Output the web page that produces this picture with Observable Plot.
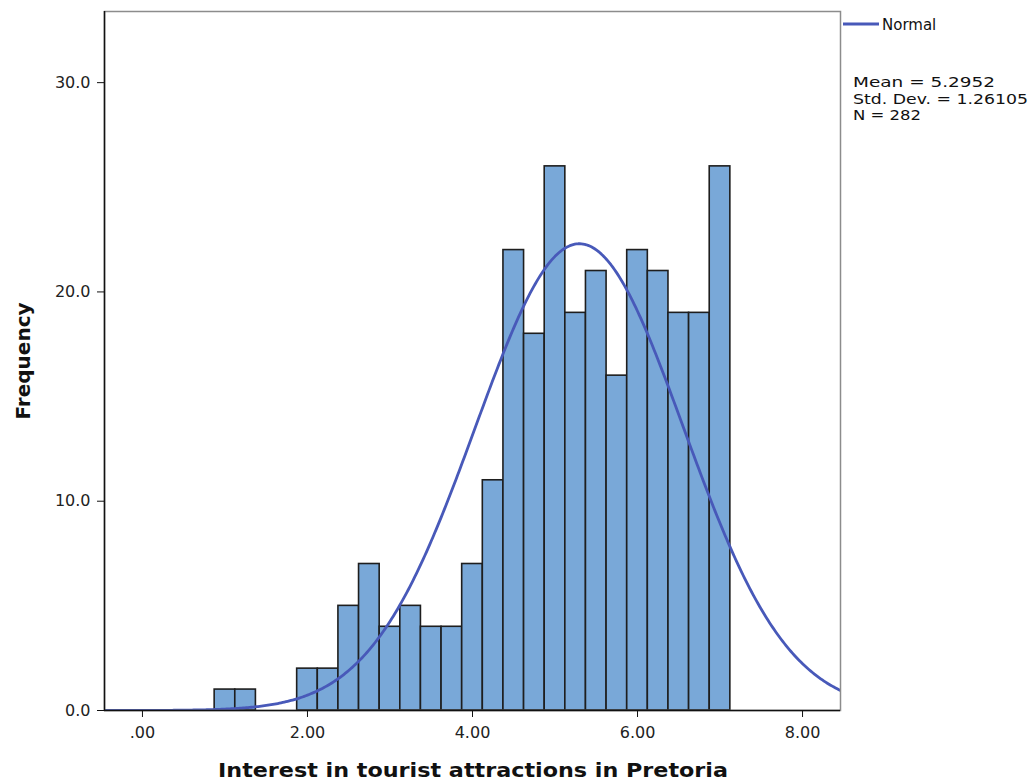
<!DOCTYPE html>
<html><head><meta charset="utf-8">
<script src="https://cdn.jsdelivr.net/npm/d3@7"></script>
<script src="https://cdn.jsdelivr.net/npm/@observablehq/plot@0.6"></script>
<style>body{margin:0;background:#fff} svg{display:block}</style>
</head><body><div id="chart"></div>
<script>
// Histogram bins (lower edges) and frequencies
const binLow = [0.875, 1.125, 1.375, 1.625, 1.875, 2.125, 2.375, 2.625, 2.875, 3.125, 3.375, 3.625, 3.875,
                4.125, 4.375, 4.625, 4.875, 5.125, 5.375, 5.625, 5.875, 6.125, 6.375, 6.625, 6.875];
const counts = [1, 1, 0, 0, 2, 2, 5, 7, 4, 5, 4, 4, 7, 11, 22, 18, 26, 19, 21, 16, 22, 21, 19, 19, 26];
const binWidth = 0.25;
// Reported statistics
const statMean = 5.2952;
const statSD = 1.26105;
const statN = 282;
const xTicks = [0, 2, 4, 6, 8];
const yTicks = [0, 10, 20, 30];
const xDomain = [-0.46, 8.46];
const yDomain = [0, 33.4];

const bins = binLow.map((lo, i) => ({x1: lo, x2: lo + binWidth, count: counts[i]}));

// Fitted normal curve from reported mean, SD and N
const curve = [];
for (let x = xDomain[0]; x <= xDomain[1] + 1e-9; x += 0.02) {
  const z = (x - statMean) / statSD;
  curve.push({x, y: statN * binWidth * Math.exp(-0.5 * z * z) / (statSD * Math.sqrt(2 * Math.PI))});
}

const chart = Plot.plot({
  width: 1030, height: 781,
  marginLeft: 104, marginRight: 190, marginTop: 11, marginBottom: 71,
  style: {fontFamily: "DejaVu Sans", fontSize: "16px", color: "#222", background: "#fff"},
  x: {domain: xDomain},
  y: {domain: yDomain},
  marks: [
    Plot.rect(bins, {x1: "x1", x2: "x2", y1: 0, y2: "count", fill: "#79a8d8", stroke: "#1e1e1e", strokeWidth: 1.6, inset: 0}),
    Plot.line(curve, {x: "x", y: "y", stroke: "#4859b9", strokeWidth: 2.8, clip: true}),
    Plot.frame({stroke: "#8c8c8c", strokeWidth: 1.5}),
    Plot.ruleY([0], {stroke: "#111", strokeWidth: 1.5}),
    Plot.ruleX([xDomain[0]], {stroke: "#111", strokeWidth: 1.5}),
    Plot.axisY({ticks: yTicks, tickFormat: d => d.toFixed(1), tickSize: 7, tickPadding: 7, label: null, stroke: "#111"}),
    Plot.axisX({ticks: xTicks, tickFormat: d => d === 0 ? ".00" : d.toFixed(2), tickSize: 7, tickPadding: 9, label: null, stroke: "#111"})
  ]
});
document.getElementById("chart").appendChild(chart);

const svg = d3.select(chart);
// Axis titles
svg.append("text")
  .attr("transform", "translate(30,361) rotate(-90)")
  .attr("text-anchor", "middle")
  .attr("font-family", "DejaVu Sans").attr("font-weight", "bold").attr("font-size", 20)
  .attr("fill", "#111")
  .text("Frequency");
svg.append("text")
  .attr("x", 218).attr("y", 777)
  .attr("text-anchor", "start")
  .attr("font-family", "DejaVu Sans").attr("font-weight", "bold").attr("font-size", 20)
  .attr("textLength", 510).attr("lengthAdjust", "spacingAndGlyphs")
  .attr("fill", "#111")
  .text("Interest in tourist attractions in Pretoria");
// Legend
svg.append("line")
  .attr("x1", 843).attr("x2", 879).attr("y1", 24).attr("y2", 24)
  .attr("stroke", "#4859b9").attr("stroke-width", 2.8);
svg.append("text")
  .attr("x", 882).attr("y", 30)
  .attr("text-anchor", "start")
  .attr("font-family", "DejaVu Sans").attr("font-size", 15).attr("fill", "#111")
  .text("Normal");
const statLines = [
  {t: `Mean = ${statMean.toFixed(4)}`, y: 87, w: 142},
  {t: `Std. Dev. = ${statSD.toFixed(5)}`, y: 103.5, w: 175},
  {t: `N = ${statN}`, y: 120, w: 68}
];
statLines.forEach(s => {
  svg.append("text")
    .attr("x", 853).attr("y", s.y)
    .attr("text-anchor", "start")
    .attr("font-family", "DejaVu Sans").attr("font-size", 14).attr("fill", "#111")
    .attr("textLength", s.w).attr("lengthAdjust", "spacingAndGlyphs")
    .text(s.t);
});
</script></body></html>
